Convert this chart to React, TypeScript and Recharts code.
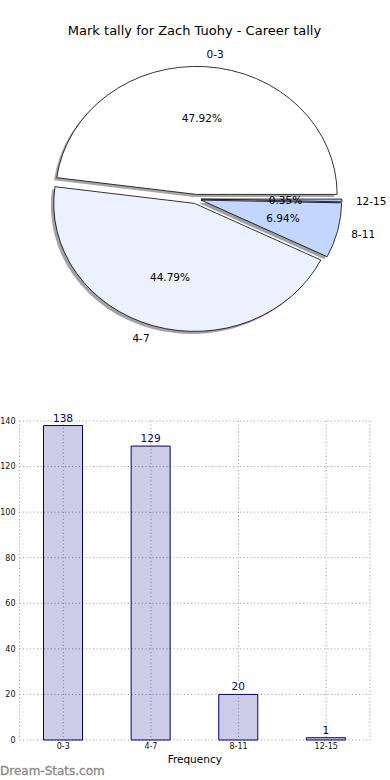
import {
  Bar,
  BarChart,
  CartesianGrid,
  LabelList,
  Pie,
  PieChart,
  ReferenceArea,
  XAxis,
  YAxis
} from "recharts";

const categories = ["0-3", "4-7", "8-11", "12-15"];
const tallies = [138, 129, 20, 1];
const sliceColors = ["#ffffff", "#ebf1fe", "#c3d7fe", "#a6c3fe"];
const yTicks = [0, 20, 40, 60, 80, 100, 120, 140];

const data = categories.map((name, i) => ({ name, value: tallies[i] }));

const FONT = "'DejaVu Sans', sans-serif";
const RAD = Math.PI / 180;
// matplotlib squashed the pie into an ellipse, wider than tall
const ASPECT = 1.1;
const EXPLODE = 4.6;
const SHADOW_DX = -2.8;
const SHADOW_DY = 2.6;

function wedgePath(cx: number, cy: number, rx: number, ry: number, start: number, end: number) {
  const x1 = cx + rx * Math.cos(start * RAD);
  const y1 = cy - ry * Math.sin(start * RAD);
  const x2 = cx + rx * Math.cos(end * RAD);
  const y2 = cy - ry * Math.sin(end * RAD);
  const large = end - start > 180 ? 1 : 0;
  return `M${cx},${cy} L${x1},${y1} A${rx},${ry} 0 ${large} 0 ${x2},${y2} Z`;
}

function shade(hex: string) {
  const n = parseInt(hex.slice(1), 16);
  const r = Math.round(((n >> 16) & 255) * 0.3);
  const g = Math.round(((n >> 8) & 255) * 0.3);
  const b = Math.round((n & 255) * 0.3);
  return `rgb(${r},${g},${b})`;
}

function apex(p: any) {
  const m = p.midAngle * RAD;
  return [p.cx + Math.cos(m) * EXPLODE * ASPECT, p.cy - Math.sin(m) * EXPLODE];
}

const renderShadow = (p: any) => {
  const [ax, ay] = apex(p);
  return (
    <path
      d={wedgePath(ax + SHADOW_DX, ay + SHADOW_DY, p.outerRadius * ASPECT, p.outerRadius, p.startAngle, p.endAngle)}
      fill={shade(sliceColors[p.index])}
      fillOpacity={0.5}
      stroke="none"
    />
  );
};

const renderWedge = (p: any) => {
  const [ax, ay] = apex(p);
  const rx = p.outerRadius * ASPECT;
  const ry = p.outerRadius;
  const c = Math.cos(p.midAngle * RAD);
  const s = Math.sin(p.midAngle * RAD);
  return (
    <g>
      <path
        d={wedgePath(ax, ay, rx, ry, p.startAngle, p.endAngle)}
        fill={sliceColors[p.index]}
        stroke="#000"
        strokeWidth={0.8}
      />
      <text
        x={ax + 0.6 * rx * c}
        y={ay - 0.6 * ry * s}
        textAnchor="middle"
        dominantBaseline="central"
        fontSize={10.5}
        fontFamily={FONT}
        fill="#000"
      >
        {(p.percent * 100).toFixed(2)}%
      </text>
      <text
        x={ax + 1.1 * rx * c}
        y={ay - 1.1 * ry * s}
        textAnchor={c >= 0 ? "start" : "end"}
        dominantBaseline="central"
        fontSize={10.5}
        fontFamily={FONT}
        fill="#000"
      >
        {categories[p.index]}
      </text>
    </g>
  );
};

export default function App() {
  return (
    <div
      style={{
        position: "absolute",
        left: 0,
        top: 0,
        width: 390,
        height: 780,
        background: "#fff",
        overflow: "hidden",
        fontFamily: FONT
      }}
    >
      <svg width={390} height={780} style={{ position: "absolute", left: 0, top: 0 }}>
        <text x={194.5} y={35} textAnchor="middle" fontSize={13} fontFamily={FONT} fill="#000">
          Mark tally for Zach Tuohy - Career tally
        </text>
        <text x={0} y={775} fontSize={12} fontFamily={FONT} fill="#888" stroke="#888" strokeWidth={0.3}>
          Dream-Stats.com
        </text>
      </svg>

      <div style={{ position: "absolute", left: 0, top: 0 }}>
        <PieChart width={390} height={390} margin={{ top: 0, right: 0, bottom: 0, left: 0 }}>
          <Pie
            data={data}
            dataKey="value"
            nameKey="name"
            cx={196}
            cy={199}
            outerRadius={128}
            startAngle={0}
            endAngle={360}
            fill="none"
            stroke="none"
            label={renderShadow}
            labelLine={false}
            isAnimationActive={false}
          />
          <Pie
            data={data}
            dataKey="value"
            nameKey="name"
            cx={196}
            cy={199}
            outerRadius={128}
            startAngle={0}
            endAngle={360}
            fill="none"
            stroke="none"
            label={renderWedge}
            labelLine={false}
            isAnimationActive={false}
          />
        </PieChart>
      </div>

      <div style={{ position: "absolute", left: 0, top: 400 }}>
        <BarChart width={390} height={380} data={data} margin={{ top: 21, right: 20, left: 0, bottom: 10 }}>
          <CartesianGrid stroke="#999" strokeDasharray="1 2.5" />
          <XAxis
            dataKey="name"
            height={30}
            tickLine={false}
            axisLine={false}
            tickSize={0}
            tickMargin={3}
            tick={{ fontSize: 8, fill: "#111", fontFamily: FONT }}
            label={{ value: "Frequency", position: "insideBottom", offset: 7, fontSize: 10.5, fill: "#000", fontFamily: FONT }}
          />
          <YAxis
            width={19.5}
            domain={[0, 140]}
            ticks={yTicks}
            tickLine={false}
            axisLine={false}
            tickSize={0}
            tickMargin={4}
            tick={{ fontSize: 8, fill: "#111", fontFamily: FONT }}
          />
          <ReferenceArea fill="none" stroke="#000" strokeWidth={1} />
          <Bar
            dataKey="value"
            fill="#000080"
            fillOpacity={0.2}
            stroke="#000080"
            strokeWidth={1}
            barSize={39}
            isAnimationActive={false}
          >
            <LabelList dataKey="value" position="top" offset={4} fill="#000080" fontSize={10.5} fontFamily={FONT} />
          </Bar>
        </BarChart>
      </div>
    </div>
  );
}
